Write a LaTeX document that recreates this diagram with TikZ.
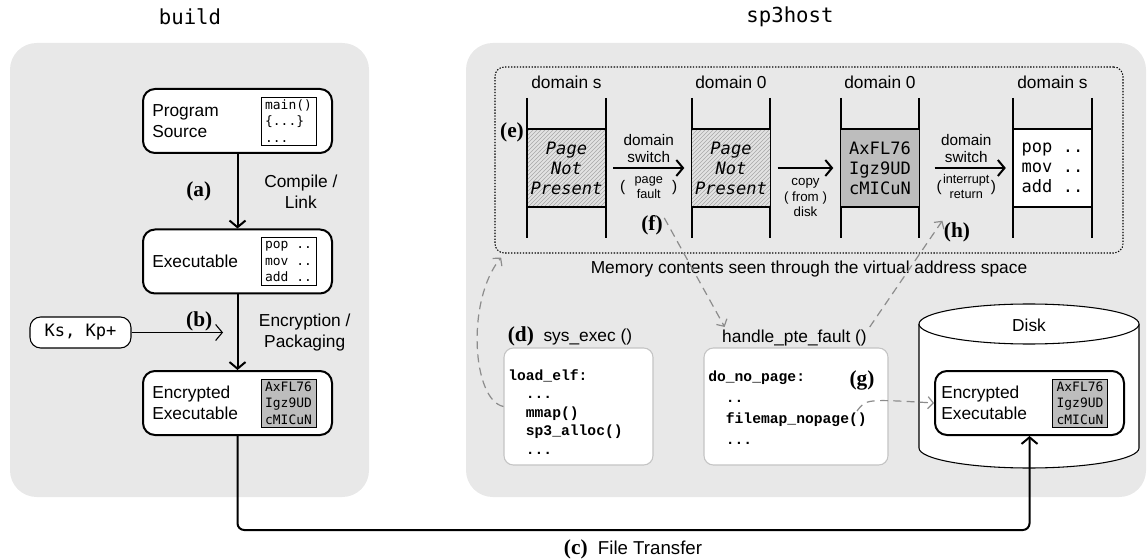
\documentclass[tikz,border=0pt]{standalone}
\usepackage{fontspec}
\setmainfont{Liberation Sans}
\setmonofont{DejaVu Sans Mono}
\newfontfamily\codefont{Liberation Mono}
\newfontfamily\labfont{Liberation Serif}
\usetikzlibrary{arrows.meta,positioning,patterns}
\definecolor{panelgray}{HTML}{E8E8E8}
\definecolor{encgray}{HTML}{BDBDBD}
\definecolor{hintgray}{HTML}{8C8C8C}
\definecolor{framegray}{HTML}{C4C4C4}
\definecolor{hatchbg}{HTML}{E2E2E2}
\definecolor{hatchln}{HTML}{A8A8A8}
\newcommand\szmain{\fontsize{13pt}{15.75pt}\selectfont}
\newcommand\szarm{\fontsize{11.5pt}{12.75pt}\selectfont}
\newcommand\szsmall{\fontsize{9.5pt}{11.25pt}\selectfont}
\newcommand\szlab{\fontsize{16pt}{18pt}\selectfont\labfont\bfseries}
\newcommand\szcell{\fontsize{9.7pt}{12.5pt}\selectfont\ttfamily}
\newcommand\szpage{\fontsize{12.8pt}{15pt}\selectfont\ttfamily}

\begin{document}
\begin{tikzpicture}[x=0.75pt, y=-0.75pt,
  panel/.style={fill=panelgray, rounded corners=20pt},
  stage/.style={draw, line width=1.5pt, rounded corners=9pt, fill=white, minimum width=141.75pt, minimum height=48pt},
  txt/.style={font=\szmain, align=left, anchor=west, inner sep=0pt},
  codecell/.style={draw, line width=0.6pt, fill=white, font=\szcell, align=left, inner xsep=3pt, inner ysep=0.5pt, minimum width=41.25pt, minimum height=36pt},
  flow/.style={-{Straight Barb[length=5pt,width=12pt]}, line width=1.5pt},
  lab/.style={font=\szlab, inner sep=1pt},
  pagecell/.style={draw, line width=0.8pt, minimum width=59.25pt, minimum height=58.5pt, inner sep=0pt, align=center, font=\szpage},
  hatched/.style={preaction={fill=hatchbg}, pattern=north east lines, pattern color=hatchln},
  hint/.style={-{Straight Barb[length=4pt,width=9pt]}, hintgray, line width=0.9pt, dash pattern=on 6pt off 4pt},
  kernbox/.style={draw=framegray, line width=0.8pt, fill=white, rounded corners=7pt, minimum height=87.75pt},
  kcode/.style={font=\codefont\bfseries, align=left, anchor=north west, inner sep=0pt},
]
  \useasboundingbox (0,0) rectangle (1148,559);

  % panels
  \fill[panel] (10,43) rectangle (369,497);
  \fill[panel] (466,43) rectangle (1146,497);
  \node[font=\fontsize{15.5pt}{18pt}\selectfont\ttfamily] (tbuild) at (190,17) {build};
  \node[font=\fontsize{15.5pt}{18pt}\selectfont\ttfamily] (thost) at (790,17) {sp3host};

  % build side
  \node[stage] (src) at (237.5,121) {};
  \node[txt] (srct) at (152,121) {Program\\Source};
  \node[codecell] (srcc) at (288.5,121) {main()\\\{...\}\\...};

  \node[stage] (exe) at (237.5,261.5) {};
  \node[txt] (exet) at (152,261.5) {Executable};
  \node[codecell] (exec) at (288.5,261.5) {pop ..\\mov ..\\add ..};

  \node[stage] (encl) at (237.5,403) {};
  \node[txt] (enclt) at (152,403) {Encrypted\\Executable};
  \node[codecell, fill=encgray] (enclc) at (288.5,403) {AxFL76\\Igz9UD\\cMICuN};

  \draw[flow] (src) -- node[lab, left=18pt] {(a)} node[right=16pt, font=\szmain, align=center] {Compile /\\Link} (exe);
  \draw[flow] (exe) -- node[right=12pt, font=\szmain, align=center] {Encryption /\\Packaging} (encl);

  \node[draw, rounded corners=8pt, line width=0.8pt, fill=white, minimum width=75.75pt, minimum height=23.25pt, font=\szpage] (keys) at (80.5,332.5) {Ks, Kp+};
  \coordinate (kin) at (223,332.5);
  \draw[-{Straight Barb[length=5pt,width=12pt]}, line width=0.8pt] (keys) -- node[lab, pos=0.74, above] {(b)} (kin);

  % memory view
  \node[draw, dash pattern=on 1pt off 1.2pt, line width=0.8pt, rounded corners=7pt, minimum width=471pt, minimum height=139.5pt] (mem) at (809,160) {};

  \draw[line width=0.8pt] (527,98) -- (527,238) (606,98) -- (606,238);
  \draw[line width=0.8pt] (692,98) -- (692,238) (770,98) -- (770,238);
  \draw[line width=0.8pt] (841,98) -- (841,238) (919,98) -- (919,238);
  \draw[line width=0.8pt] (1013,98) -- (1013,238) (1092,98) -- (1092,238);

  \node[font=\szmain] (h1) at (566.5,82) {domain s};
  \node[font=\szmain] (h2) at (731,82) {domain 0};
  \node[font=\szmain] (h3) at (880,82) {domain 0};
  \node[font=\szmain] (h4) at (1052.5,82) {domain s};

  \node[pagecell, hatched, font=\szpage\itshape] (pg1) at (566.5,168) {Page\\Not\\Present};
  \node[pagecell, hatched, font=\szpage\itshape] (pg2) at (731,168) {Page\\Not\\Present};
  \node[pagecell, fill=encgray] (pg3) at (880,168) {AxFL76\\Igz9UD\\cMICuN};
  \node[pagecell, fill=white, align=left] (pg4) at (1052.5,168) {pop ..\\mov ..\\add ..};

  \draw[flow, shorten <=5pt, shorten >=5pt] (pg1) -- node[above, font=\szarm, align=center] {domain\\switch}
    node[below, font=\szsmall] {{\szarm(}\hspace{7pt}\begin{tabular}{@{}c@{}}page\\fault\end{tabular}\hspace{7pt}{\szarm)}} (pg2);
  \draw[flow, shorten <=5pt, shorten >=5pt] (pg2) -- node[below=4pt, font=\fontsize{10pt}{11.5pt}\selectfont, align=center] {copy\\( from )\\disk} (pg3);
  \draw[flow, shorten <=11pt, shorten >=5pt] (pg3) -- node[above, font=\szarm, align=center] {domain\\switch}
    node[below, font=\szsmall] {{\szarm(}\hspace{1pt}\begin{tabular}{@{}c@{}}interrupt\\return\end{tabular}\hspace{1pt}{\szarm)}} (pg4);

  \node[lab] (le) at (512,132) {(e)};
  \node[lab] (lf) at (652,225) {(f)};
  \node[lab] (lh) at (957,232) {(h)};
  \node[font=\szmain] (memcap) at (809,269) {Memory contents seen through the virtual address space};

  % kernel code
  \node[kernbox, minimum width=111.75pt] (sysx) at (578.5,406.5) {};
  \node[font=\szmain, anchor=south, inner sep=2pt] (sysxt) at (570,349) {{\szlab (d)}\ \ sys\_exec ()};
  \node[kcode, font=\fontsize{11pt}{13.9pt}\selectfont\codefont\bfseries] (sysxc) at (508,369) {load\_elf:\\\hspace*{13.2pt}...\\\hspace*{13.2pt}mmap()\\\hspace*{13.2pt}sp3\_alloc()\\\hspace*{13.2pt}...};

  \node[kernbox, minimum width=138pt] (pte) at (796,406.5) {};
  \node[font=\szmain, anchor=south, inner sep=2pt] (ptet) at (794.5,349) {handle\_pte\_fault ()};
  \node[kcode, font=\fontsize{11pt}{15.75pt}\selectfont\codefont\bfseries] (ptec) at (708,371) {do\_no\_page:\\\hspace*{13.2pt}..\\\hspace*{13.2pt}filemap\_nopage()\\\hspace*{13.2pt}...};
  \node[lab] (lg) at (862,380) {(g)};

  % disk
  \draw[line width=0.8pt, fill=white] (919,324) -- (919,448) arc[start angle=180, end angle=0, x radius=110, y radius=20] -- (1139,324);
  \draw[line width=0.8pt, fill=white] (1029,324) ellipse [x radius=110, y radius=20];
  \node[font=\szmain] (disk) at (1029,325) {Disk};

  \node[stage] (encd) at (1029.5,403) {};
  \node[txt] (encdt) at (941,403) {Encrypted\\Executable};
  \node[codecell, fill=encgray] (encdc) at (1080,403) {AxFL76\\Igz9UD\\cMICuN};

  % transfer
  \coordinate (ftmid) at (633,530);
  \draw[flow, rounded corners=5pt] (encl) |- (ftmid) -| (encd);
  \node[below=4pt of ftmid, font=\fontsize{14pt}{16pt}\selectfont] (ftl) {{\szlab (c)}\ \ File Transfer};

  % dashed hints
  \draw[hint] (sysx.west) .. controls (472,400) and (466,300) .. ([xshift=5pt,yshift=-3pt]mem.south west);
  \draw[hint] (lf.30) -- ([xshift=4pt]ptet.north west);
  \draw[hint] (ptet.north east) -- (lh.north west);
  \coordinate (gsrc) at (857,411);
  \draw[hint] (gsrc) .. controls (866,399) .. (encd.west);
\end{tikzpicture}
\end{document}
